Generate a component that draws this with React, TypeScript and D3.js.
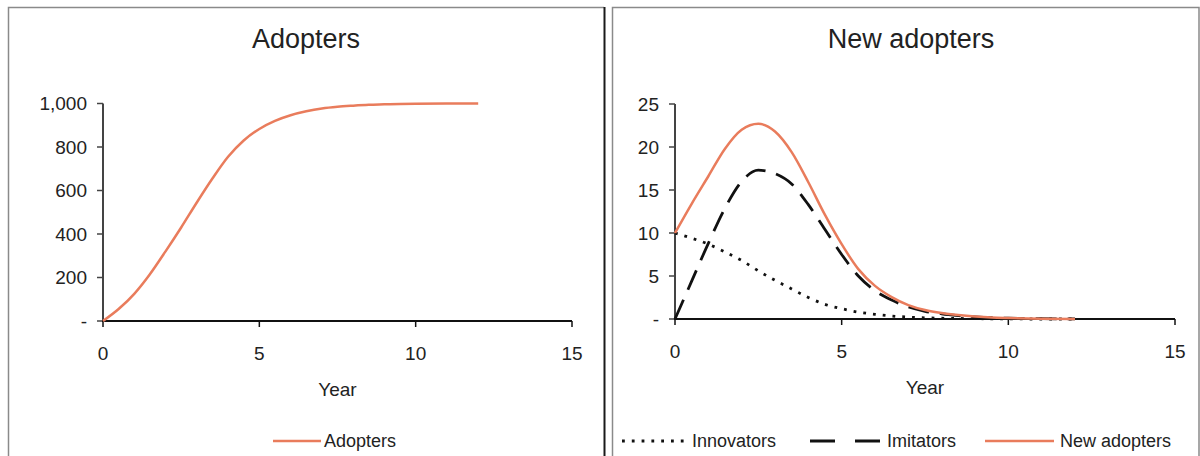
import React from "react";
import * as d3 from "d3";

// ---- data ----
const years = [0, 0.5, 1, 1.5, 2, 2.5, 3, 3.5, 4, 4.5, 5, 5.5, 6, 6.5, 7, 7.5, 8, 8.5, 9, 9.5, 10, 11, 12];
const adopters = [0, 55, 125, 215, 320, 430, 545, 655, 755, 830, 883, 920, 946, 964, 977, 985, 990, 994, 996, 998, 999, 1000, 1000];
const innovators = [10, 9.4, 8.7, 7.8, 6.8, 5.6, 4.5, 3.5, 2.5, 1.7, 1.2, 0.8, 0.55, 0.35, 0.22, 0.14, 0.09, 0.06, 0.04, 0.02, 0.01, 0, 0];
const imitators = [0, 4.4, 8.8, 12.9, 16.0, 17.3, 16.9, 15.7, 13.3, 10.4, 7.5, 5.0, 3.3, 2.2, 1.4, 0.9, 0.6, 0.4, 0.25, 0.15, 0.1, 0.04, 0.01];
const newAdopters = [10, 13.4, 16.6, 19.8, 22.0, 22.7, 21.8, 19.4, 15.9, 12.1, 8.7, 5.8, 3.85, 2.55, 1.62, 1.04, 0.69, 0.46, 0.29, 0.17, 0.11, 0.04, 0.01];
const xTicks = [0, 5, 10, 15];
const leftYTicks = [0, 200, 400, 600, 800, 1000];
const rightYTicks = [0, 5, 10, 15, 20, 25];
const leftTitle = "Adopters";
const rightTitle = "New adopters";
const xTitle = "Year";

const FONT = "'Liberation Sans', Arial, sans-serif";
const ORANGE = "#E97C5C";
const TEXT = "#222";

type Pt = [number, number];

function Axes({ x, y, yTicks, fmt }: { x: d3.ScaleLinear<number, number>; y: d3.ScaleLinear<number, number>; yTicks: number[]; fmt: (v: number) => string }) {
  const x0 = x(0);
  const y0 = y(0);
  return (
    <g>
      <line x1={x0} x2={x0} y1={y0 + 1} y2={y(yTicks[yTicks.length - 1])} stroke="#444" strokeWidth={2} />
      {yTicks.map((t) => (
        <g key={"y" + t}>
          <line x1={x0 - 6} x2={x0} y1={y(t)} y2={y(t)} stroke="#444" strokeWidth={1.5} />
          <text x={x0 - 16} y={y(t)} dy="0.36em" textAnchor="end" fontSize={19} fontFamily={FONT} fill={TEXT}>
            {fmt(t)}
          </text>
        </g>
      ))}
      <line x1={x0 - 1} x2={x(15)} y1={y0} y2={y0} stroke="#111" strokeWidth={2} />
      {xTicks.map((t) => (
        <g key={"x" + t}>
          <line x1={x(t)} x2={x(t)} y1={y0} y2={y0 + 6} stroke="#111" strokeWidth={1.5} />
          <text x={x(t)} y={y0 + 39} textAnchor="middle" fontSize={19} fontFamily={FONT} fill={TEXT}>
            {t}
          </text>
        </g>
      ))}
    </g>
  );
}

export default function App() {
  // left plot
  const xL = d3.scaleLinear().domain([0, 15]).range([103, 572]);
  const yL = d3.scaleLinear().domain([0, 1000]).range([321, 103.5]);
  // right plot
  const xR = d3.scaleLinear().domain([0, 15]).range([675, 1175]);
  const yR = d3.scaleLinear().domain([0, 25]).range([319, 104]);

  const lineL = d3.line<Pt>().x((d) => xL(d[0])).y((d) => yL(d[1])).curve(d3.curveMonotoneX);
  const lineR = d3.line<Pt>().x((d) => xR(d[0])).y((d) => yR(d[1])).curve(d3.curveMonotoneX);

  const zip = (vals: number[]): Pt[] => years.map((t, i) => [t, vals[i]]);

  const fmtL = (v: number) => (v === 0 ? "-" : d3.format(",")(v));
  const fmtR = (v: number) => (v === 0 ? "-" : String(v));

  return (
    <svg width={1200} height={456} style={{ position: "absolute", left: 0, top: 0, background: "#fff" }}>
      <rect x={0} y={0} width={1200} height={456} fill="#fff" />
      {/* panel frames */}
      <path d="M8.5,460 V7.5 H604" fill="none" stroke="#8a8a8a" strokeWidth={1.5} />
      <line x1={604.5} x2={604.5} y1={7} y2={460} stroke="#1a1a1a" strokeWidth={2} />
      <path d="M612.5,460 V7.5 H1199 V460" fill="none" stroke="#8a8a8a" strokeWidth={1.5} />

      {/* titles */}
      <text x={306} y={48} textAnchor="middle" fontSize={27} fontFamily={FONT} fill={TEXT}>{leftTitle}</text>
      <text x={911} y={48} textAnchor="middle" fontSize={27} fontFamily={FONT} fill={TEXT}>{rightTitle}</text>

      {/* left chart */}
      <Axes x={xL} y={yL} yTicks={leftYTicks} fmt={fmtL} />
      <path d={lineL(zip(adopters)) || ""} fill="none" stroke={ORANGE} strokeWidth={2.5} />
      <text x={(xL(0) + xL(15)) / 2} y={396} textAnchor="middle" fontSize={19} fontFamily={FONT} fill={TEXT}>{xTitle}</text>

      {/* right chart */}
      <Axes x={xR} y={yR} yTicks={rightYTicks} fmt={fmtR} />
      <path d={lineR(zip(innovators)) || ""} fill="none" stroke="#111" strokeWidth={2.8} strokeDasharray="2.8 7" />
      <path d={lineR(zip(imitators)) || ""} fill="none" stroke="#111" strokeWidth={2.8} strokeDasharray="21 11" />
      <path d={lineR(zip(newAdopters)) || ""} fill="none" stroke={ORANGE} strokeWidth={2.5} />
      <text x={(xR(0) + xR(15)) / 2} y={394} textAnchor="middle" fontSize={19} fontFamily={FONT} fill={TEXT}>{xTitle}</text>

      {/* legends */}
      <line x1={273} x2={321} y1={441} y2={441} stroke={ORANGE} strokeWidth={2.5} />
      <text x={324} y={447} fontSize={18} fontFamily={FONT} fill={TEXT}>Adopters</text>

      <line x1={622} x2={688} y1={441} y2={441} stroke="#111" strokeWidth={2.8} strokeDasharray="2.8 7" />
      <text x={692} y={447} fontSize={18} fontFamily={FONT} fill={TEXT}>Innovators</text>
      <line x1={810} x2={880} y1={441} y2={441} stroke="#111" strokeWidth={2.8} strokeDasharray="25 20" />
      <text x={887} y={447} fontSize={18} fontFamily={FONT} fill={TEXT}>Imitators</text>
      <line x1={985} x2={1054} y1={441} y2={441} stroke={ORANGE} strokeWidth={2.5} />
      <text x={1060} y={447} fontSize={18} fontFamily={FONT} fill={TEXT}>New adopters</text>
    </svg>
  );
}
